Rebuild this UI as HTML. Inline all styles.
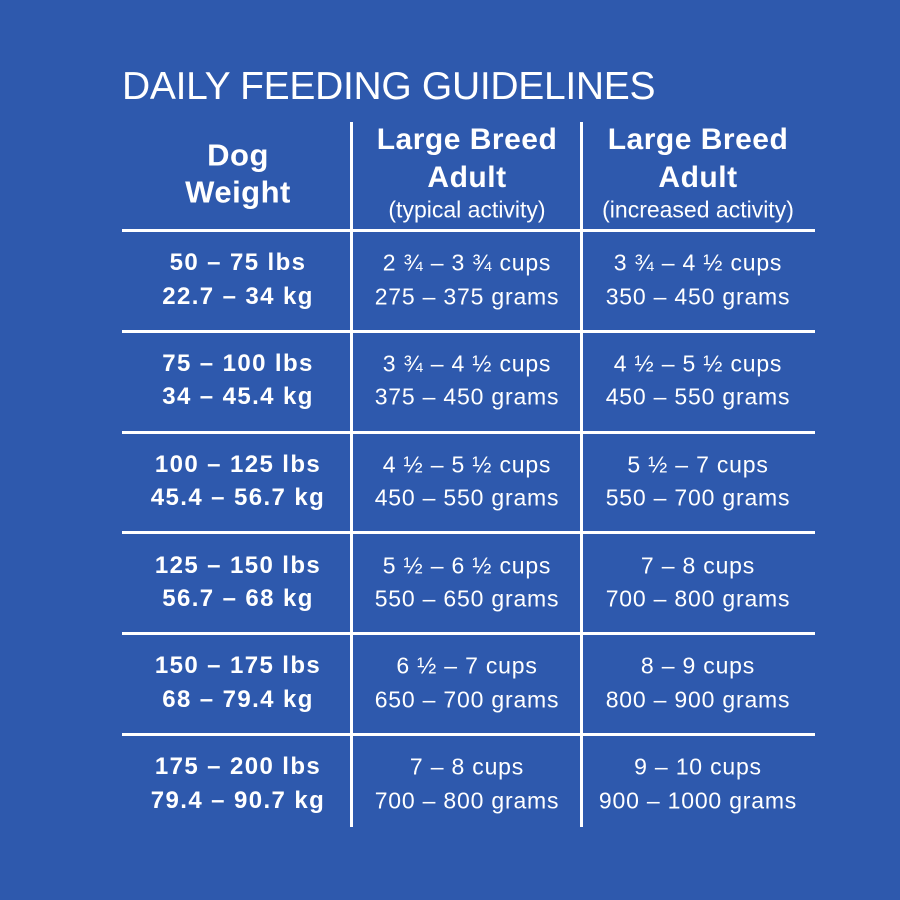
<!DOCTYPE html>
<html><head><style>
body{margin:0;width:900px;height:900px;background:#2e59ad;position:relative;overflow:hidden;font-family:"Liberation Sans",sans-serif;color:#fff}
.t{position:absolute;white-space:nowrap;transform:translate(-50%,-50%);line-height:1}
.h{font-size:30px;font-weight:bold;letter-spacing:0.5px}
.s{font-size:23px;letter-spacing:0px}
.r{font-size:23px;letter-spacing:0.8px}
.b{font-weight:bold;font-size:24px;letter-spacing:1.4px}
.line{position:absolute;background:#fff}
</style></head><body>
<div style="position:absolute;left:122px;top:65px;font-size:39px;letter-spacing:-0.3px;line-height:44px">DAILY FEEDING GUIDELINES</div>
<div class="line" style="left:350px;top:122px;width:3px;height:705px"></div>
<div class="line" style="left:580px;top:122px;width:3px;height:705px"></div>
<div class="line" style="left:122px;top:229px;width:693px;height:3px"></div>
<div class="line" style="left:122px;top:330px;width:693px;height:3px"></div>
<div class="line" style="left:122px;top:431px;width:693px;height:3px"></div>
<div class="line" style="left:122px;top:531px;width:693px;height:3px"></div>
<div class="line" style="left:122px;top:632px;width:693px;height:3px"></div>
<div class="line" style="left:122px;top:733px;width:693px;height:3px"></div>

<div class="t h" style="left:238px;top:155px;font-size:31px">Dog</div>
<div class="t h" style="left:238px;top:192px;font-size:31px">Weight</div>
<div class="t h" style="left:467px;top:140px">Large Breed</div>
<div class="t h" style="left:467px;top:178px">Adult</div>
<div class="t s" style="left:467px;top:210px">(typical activity)</div>
<div class="t h" style="left:698px;top:140px">Large Breed</div>
<div class="t h" style="left:698px;top:178px">Adult</div>
<div class="t s" style="left:698px;top:210px">(increased activity)</div>

<div class="t b" style="left:238px;top:263px">50 – 75 lbs</div>
<div class="t b" style="left:238px;top:297px">22.7 – 34 kg</div>
<div class="t r" style="left:467px;top:263px">2 ¾ – 3 ¾ cups</div>
<div class="t r" style="left:467px;top:297px">275 – 375 grams</div>
<div class="t r" style="left:698px;top:263px">3 ¾ – 4 ½ cups</div>
<div class="t r" style="left:698px;top:297px">350 – 450 grams</div>

<div class="t b" style="left:238px;top:364px">75 – 100 lbs</div>
<div class="t b" style="left:238px;top:397px">34 – 45.4 kg</div>
<div class="t r" style="left:467px;top:364px">3 ¾ – 4 ½ cups</div>
<div class="t r" style="left:467px;top:397px">375 – 450 grams</div>
<div class="t r" style="left:698px;top:364px">4 ½ – 5 ½ cups</div>
<div class="t r" style="left:698px;top:397px">450 – 550 grams</div>

<div class="t b" style="left:238px;top:465px">100 – 125 lbs</div>
<div class="t b" style="left:238px;top:498px">45.4 – 56.7 kg</div>
<div class="t r" style="left:467px;top:465px">4 ½ – 5 ½ cups</div>
<div class="t r" style="left:467px;top:498px">450 – 550 grams</div>
<div class="t r" style="left:698px;top:465px">5 ½ – 7 cups</div>
<div class="t r" style="left:698px;top:498px">550 – 700 grams</div>

<div class="t b" style="left:238px;top:566px">125 – 150 lbs</div>
<div class="t b" style="left:238px;top:599px">56.7 – 68 kg</div>
<div class="t r" style="left:467px;top:566px">5 ½ – 6 ½ cups</div>
<div class="t r" style="left:467px;top:599px">550 – 650 grams</div>
<div class="t r" style="left:698px;top:566px">7 – 8 cups</div>
<div class="t r" style="left:698px;top:599px">700 – 800 grams</div>

<div class="t b" style="left:238px;top:666px">150 – 175 lbs</div>
<div class="t b" style="left:238px;top:700px">68 – 79.4 kg</div>
<div class="t r" style="left:467px;top:666px">6 ½ – 7 cups</div>
<div class="t r" style="left:467px;top:700px">650 – 700 grams</div>
<div class="t r" style="left:698px;top:666px">8 – 9 cups</div>
<div class="t r" style="left:698px;top:700px">800 – 900 grams</div>

<div class="t b" style="left:238px;top:767px">175 – 200 lbs</div>
<div class="t b" style="left:238px;top:801px">79.4 – 90.7 kg</div>
<div class="t r" style="left:467px;top:767px">7 – 8 cups</div>
<div class="t r" style="left:467px;top:801px">700 – 800 grams</div>
<div class="t r" style="left:698px;top:767px">9 – 10 cups</div>
<div class="t r" style="left:698px;top:801px">900 – 1000 grams</div>
</body></html>
